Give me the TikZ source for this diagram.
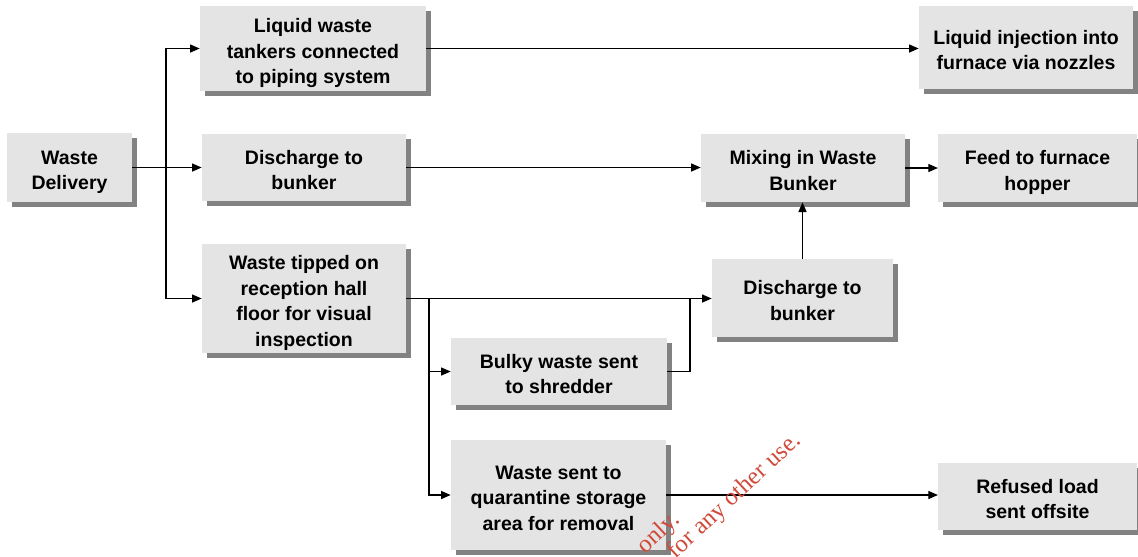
\documentclass[tikz,border=0pt]{standalone}
\usepackage{fontspec}
\setmainfont{Liberation Sans}
\newfontfamily\stampfont{Liberation Serif}
\usepackage{xcolor}
\usepackage{tikz}
\usetikzlibrary{arrows.meta,shadows}
\definecolor{boxfill}{HTML}{E4E4E4}
\definecolor{boxshade}{HTML}{828282}
\definecolor{stampred}{HTML}{D04A3A}
% stacked lines, set a little below the box centre
\newcommand{\stagelines}[1]{\raisebox{-2.6pt}[\height][\depth]{\begin{tabular}{@{}c@{}}#1\end{tabular}}}
\tikzset{
  stage/.style = {fill=boxfill, align=center, inner sep=2pt,
                  font=\fontsize{11.1}{14.5}\selectfont\bfseries,
                  drop shadow={shadow xshift=2.6pt, shadow yshift=-2.6pt,
                               fill=boxshade, opacity=1}},
  ar/.style    = {-{Triangle[length=5.5pt,width=4.6pt]}, line width=0.7pt},
  ln/.style    = {line width=0.7pt},
  stamp/.style = {text=stampred, font=\stampfont\fontsize{14}{14}\selectfont,
                  rotate=43, inner sep=0pt},
}

\begin{document}
\begin{tikzpicture}[x=0.02cm, y=-0.02cm]
  \useasboundingbox (0,0) rectangle (1138,556);
  \clip (0,0) rectangle (1138,556);

  % left column
  \node[stage, minimum width=2.5cm, minimum height=1.38cm] (delivery)
     at (69.5,167.5) {\stagelines{Waste\\Delivery}};

  % second column
  \node[stage, minimum width=4.52cm, minimum height=1.7cm] (tankers)
     at (313,48.5) {\stagelines{Liquid waste\\tankers connected\\to piping system}};
  \node[stage, minimum width=4.08cm, minimum height=1.34cm] (bunkerA)
     at (304,167.5) {\stagelines{Discharge to\\bunker}};
  \node[stage, minimum width=4.08cm, minimum height=2.02cm] (tipped)
     at (304,298.5) {\stagelines{Waste tipped on\\reception hall\\floor for visual\\inspection}};

  % inspection outcomes
  \node[stage, minimum width=4.32cm, minimum height=1.34cm] (bulky)
     at (559,371.5) {\stagelines{Bulky waste sent\\to shredder}};
  \node[stage, minimum width=4.3cm, minimum height=2.2cm] (quarantine)
     at (558.5,495) {\stagelines{Waste sent to\\quarantine storage\\area for removal}};

  % bunker and furnace side
  \node[stage, minimum width=4.08cm, minimum height=1.36cm] (mixing)
     at (803,168) {\stagelines{Mixing in Waste\\Bunker}};
  \node[stage, minimum width=3.62cm, minimum height=1.56cm] (bunkerB)
     at (802.5,298) {\stagelines{Discharge to\\bunker}};
  \node[stage, minimum width=4.28cm, minimum height=1.66cm] (injection)
     at (1026,47.5) {\stagelines{Liquid injection into\\furnace via nozzles}};
  \node[stage, minimum width=3.97cm, minimum height=1.36cm] (feed)
     at (1037.5,168) {\stagelines{Feed to furnace\\hopper}};
  \node[stage, minimum width=3.97cm, minimum height=1.34cm] (refused)
     at (1037.5,496.5) {\stagelines{Refused load\\sent offsite}};

  % junction points
  \coordinate (split) at (166,167.5);
  \coordinate (drop)  at (429,298.5);
  \coordinate (merge) at (690,298.5);

  \draw[ar] (delivery.east) -- (bunkerA.west);
  \draw[ar] (split) |- (tankers.west);
  \draw[ar] (split) |- (tipped.west);
  \draw[ar] (tankers.east) -- (tankers.east -| injection.west);
  \draw[ar] (bunkerA.east) -- (bunkerA.east -| mixing.west);
  \draw[ar] (mixing.east) -- (mixing.east -| feed.west);
  \draw[ar] (bunkerB.north) -- (bunkerB.north |- mixing.south);
  \draw[ar] (tipped.east) -- (tipped.east -| bunkerB.west);
  \draw[ar] (drop) |- (bulky.west);
  \draw[ar] (drop) |- (quarantine.west);
  \draw[ln] (bulky.east) -| (merge);
  \draw[ar] (quarantine.east) -- (quarantine.east -| refused.west);

  % stamp across the lower edge
  \node[stamp, anchor=base east] (stampB) at (802,442) {for any other use.};
  \node[stamp, anchor=base east] (stampA) at (681,521) {only.};
\end{tikzpicture}
\end{document}
